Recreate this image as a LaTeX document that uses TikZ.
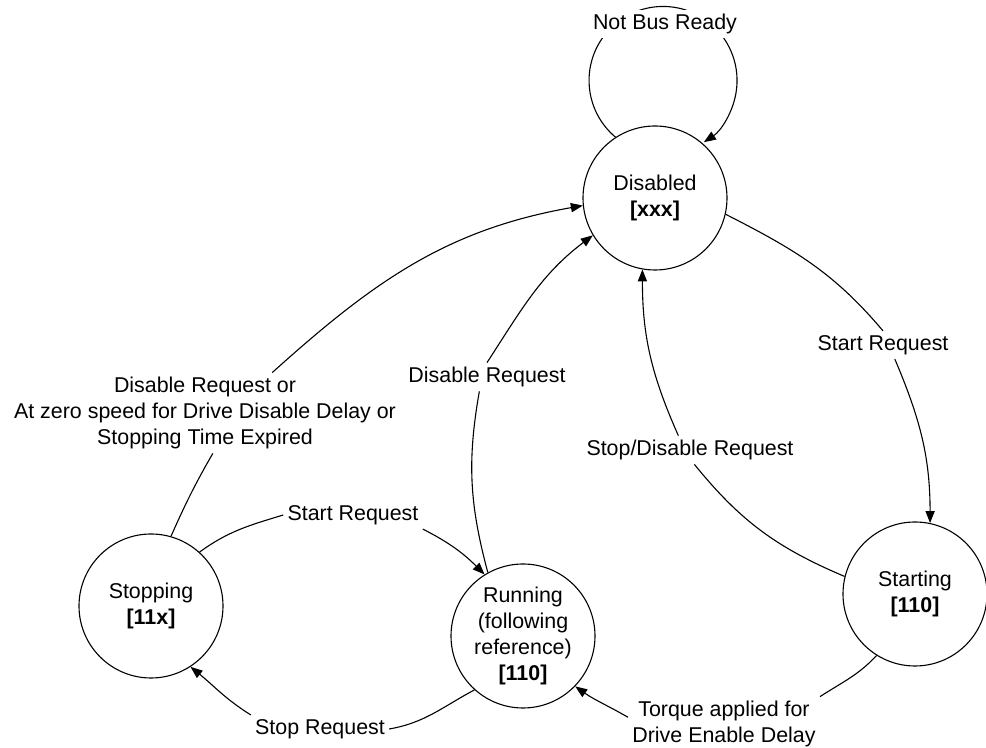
\documentclass[tikz,border=0pt]{standalone}
\usepackage{fontspec}
\setmainfont{Liberation Sans}
\usetikzlibrary{arrows.meta}

\begin{document}
\begin{tikzpicture}[x=0.5bp, y=0.5bp, >={Triangle[length=6bp,width=4.6bp]},
  every node/.style={font=\fontsize{10.7bp}{13bp}\selectfont},
  state/.style={circle, draw, line width=0.55bp, minimum size=72bp,
                inner sep=0pt, align=center},
  trans/.style={align=center, inner sep=2bp},
  link/.style={line width=0.55bp}]
\useasboundingbox (0,0) rectangle (986,748);

% states
\node[state] (dis) at (655,550) {Disabled\\\textbf{[xxx]}};
\node[state] (stop) at (151,142) {Stopping\\\textbf{[11x]}};
\node[state] (run) at (523,112) {Running\\(following\\reference)\\\textbf{[110]}};
\node[state] (start) at (915,154) {Starting\\\textbf{[110]}};

% transition labels
\node[trans] (lstopdis) at (205,335)
  {Disable Request or\\At zero speed for Drive Disable Delay or\\Stopping Time Expired};
\node[trans] (lrundis) at (487,371) {Disable Request};
\node[trans] (ldisstart) at (883,403) {Start Request};
\node[trans] (lstartdis) at (690,298) {Stop/Disable Request};
\node[trans] (lstoprun) at (353,233) {Start Request};
\node[trans] (lrunstop) at (320,19) {Stop Request};
\node[trans] (lstartrun) at (724,24) {Torque applied for\\Drive Enable Delay};

% self loop on Disabled
\draw[link,->] (dis.123) arc[start angle=-130, end angle=-416.5, radius=37bp];
\node[trans, fill=white] (lnotready) at (665,724) {Not Bus Ready};

% transitions
\draw[link] (stop.74) to[out=66,in=240] (lstopdis.-79);
\draw[link,->] (lstopdis.31) to[out=42,in=190] (dis.186);

\draw[link] (run.119) to[out=105,in=260] (lrundis.-118);
\draw[link,->] (lrundis.north) to[out=57,in=217] (dis.211);

\draw[link] (dis.-13) to[out=-27,in=130] (ldisstart.north);
\draw[link,->] (ldisstart.-50) to[out=-67,in=90] (start.78);

\draw[link] (start.166) to[out=157,in=-51] (lstartdis.-73);
\draw[link,->] (lstartdis.129) to[out=114,in=270] (dis.260);

\draw[link] (stop.48) to[out=36,in=197] (lstoprun.west);
\draw[link,->] (lstoprun.south east) to[out=-27,in=135] (run.122);

\draw[link] (run.228) to[out=208,in=10] (lrunstop.east);
\draw[link,->] (lrunstop.north west) to[out=148,in=-39] (stop.-57);

\draw[link] (start.238) to[out=227,in=33] (lstartrun.north east);
\draw[link,->] (lstartrun.176) to[out=150,in=-35] (run.-44);
\end{tikzpicture}
\end{document}
